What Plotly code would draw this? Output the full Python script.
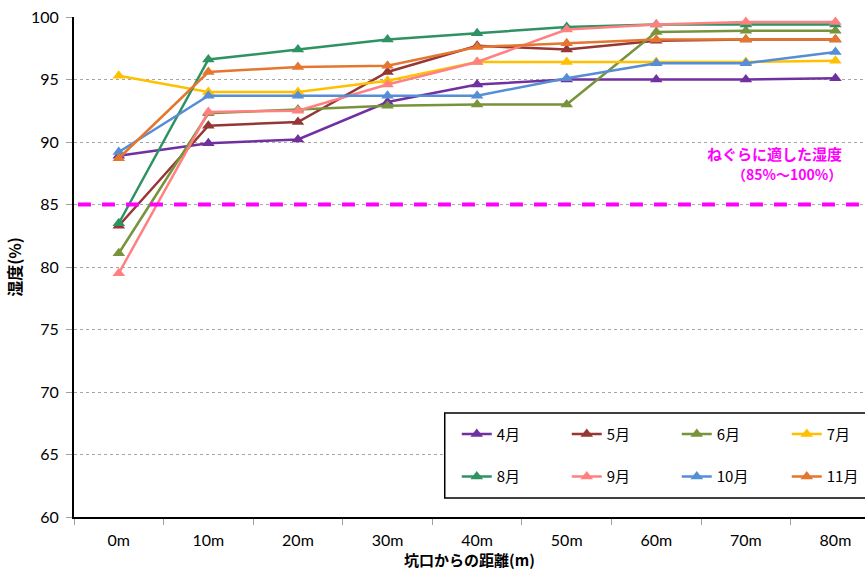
import plotly.graph_objects as go

# Distance from the cave entrance (category axis)
distances = ["0m", "10m", "20m", "30m", "40m", "50m", "60m", "70m", "80m"]

# Humidity (%) by month
months = ["4月", "5月", "6月", "7月", "8月", "9月", "10月", "11月"]
hum_apr = [88.9, 89.9, 90.2, 93.2, 94.6, 95.0, 95.0, 95.0, 95.1]
hum_may = [83.3, 91.3, 91.6, 95.6, 97.7, 97.4, 98.1, 98.2, 98.2]
hum_jun = [81.1, 92.3, 92.6, 92.9, 93.0, 93.0, 98.8, 98.9, 98.9]
hum_jul = [95.3, 94.0, 94.0, 94.9, 96.4, 96.4, 96.4, 96.4, 96.5]
hum_aug = [83.5, 96.6, 97.4, 98.2, 98.7, 99.2, 99.4, 99.4, 99.4]
hum_sep = [79.5, 92.4, 92.5, 94.6, 96.4, 99.0, 99.4, 99.6, 99.6]
hum_oct = [89.2, 93.7, 93.7, 93.7, 93.7, 95.1, 96.3, 96.3, 97.2]
hum_nov = [88.7, 95.6, 96.0, 96.1, 97.6, 97.9, 98.2, 98.2, 98.2]

series = [hum_apr, hum_may, hum_jun, hum_jul, hum_aug, hum_sep, hum_oct, hum_nov]
colors = ["#7030A0", "#953735", "#77933C", "#FFC000",
          "#2E9262", "#FF8080", "#558ED5", "#E4762F"]

# Suitable roost humidity threshold
roost_min = 85

y_ticks = [60, 65, 70, 75, 80, 85, 90, 95, 100]

jp_font = "Noto Sans CJK JP"
num_font = "Lato"

fig = go.Figure()
for i, (name, vals, col) in enumerate(zip(months, series, colors)):
    fig.add_trace(go.Scatter(
        x=distances, y=vals, name=name, mode="lines+markers",
        line=dict(color=col, width=2.5),
        marker=dict(symbol="triangle-up", size=11, color=col),
        cliponaxis=False,
        legend="legend" if i < 4 else "legend2",
    ))

# Legend frame
fig.add_shape(type="rect", xref="paper", yref="paper",
              x0=0.4687, x1=1.05, y0=0.038, y1=0.208,
              line=dict(color="black", width=1.5), fillcolor="white",
              layer="above")

# Threshold line
fig.add_shape(type="line", xref="paper", yref="y",
              x0=0.005, x1=1, y0=roost_min, y1=roost_min,
              line=dict(color="#FF00FF", width=4, dash="13px,11px"),
              layer="above")

fig.add_annotation(text="<b>ねぐらに適した湿度</b>", xref="paper", yref="y",
                   x=0.9734, y=89.05, xanchor="right", yanchor="middle",
                   showarrow=False,
                   font=dict(family=jp_font, size=15, color="#FF00FF"))
fig.add_annotation(text=f"<b>（{roost_min}%〜100%）</b>", xref="paper", yref="y",
                   x=0.9734, y=87.45, xanchor="right", yanchor="middle",
                   showarrow=False,
                   font=dict(family=jp_font, size=14, color="#FF00FF"))

legend_common = dict(
    orientation="h", xref="paper", yref="paper",
    xanchor="left", yanchor="middle",
    bgcolor="rgba(0,0,0,0)", borderwidth=0,
    entrywidth=65, entrywidthmode="pixels",
    font=dict(family=jp_font, size=15, color="black"),
    itemclick=False,
)

fig.update_layout(
    width=865, height=573,
    margin=dict(l=74, r=0, t=17, b=56, autoexpand=False),
    paper_bgcolor="white", plot_bgcolor="white",
    showlegend=True,
    legend=dict(x=0.4839, y=0.1657, **legend_common),
    legend2=dict(x=0.4839, y=0.0803, **legend_common),
    xaxis=dict(
        type="category", categoryorder="array", categoryarray=distances,
        range=[-0.5, 8.33],
        showline=True, linecolor="black", linewidth=2,
        ticks="outside", tickson="boundaries", ticklen=6, tickcolor="#A0A0A0",
        ticklabelstandoff=8,
        tickfont=dict(family=num_font, size=16, color="black"),
        showgrid=False, zeroline=False,
        title=dict(text="<b>坑口からの距離(m)</b>", standoff=4,
                   font=dict(family=jp_font, size=15, color="black")),
    ),
    yaxis=dict(
        range=[60, 100], tickvals=y_ticks,
        showline=True, linecolor="black", linewidth=2,
        ticks="outside", ticklen=6, tickcolor="#A0A0A0",
        ticklabelstandoff=4,
        tickfont=dict(family=num_font, size=16, color="black"),
        showgrid=True, gridcolor="#A6A6A6", gridwidth=1, griddash="dot",
        zeroline=False,
        title=dict(text="<b>湿度(%)</b>", standoff=5,
                   font=dict(family=jp_font, size=16, color="black")),
    ),
)

fig.write_html("out.html")
